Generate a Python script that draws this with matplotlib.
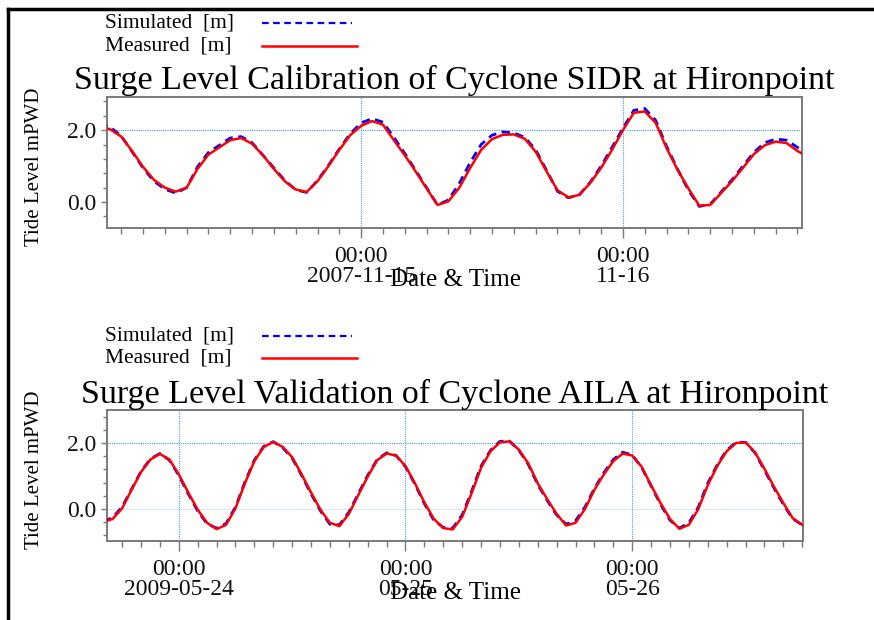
import matplotlib
matplotlib.use('Agg')
import matplotlib.pyplot as plt
import matplotlib.dates as mdates
import pandas as pd
from matplotlib.lines import Line2D
from matplotlib.ticker import MultipleLocator, FixedLocator

plt.rcParams['font.family'] = ['Liberation Serif', 'DejaVu Serif']

# ---- Cyclone SIDR, Hironpoint (hourly, from 2007-11-14 00:00) ----
sidr_start = '2007-11-14 00:00'
sidr_measured = [2.12, 2.02, 1.82, 1.42, 0.98, 0.62, 0.40, 0.29, 0.40, 0.92,
                 1.32, 1.52, 1.72, 1.78, 1.62, 1.30, 0.92, 0.58, 0.35, 0.28,
                 0.58, 1.00, 1.45, 1.86, 2.12, 2.25, 2.15, 1.72, 1.30, 0.85,
                 0.38, -0.08, 0.02, 0.40, 0.95, 1.45, 1.75, 1.87, 1.88, 1.76,
                 1.40, 0.85, 0.33, 0.13, 0.20, 0.53, 0.95, 1.45, 2.00, 2.48,
                 2.52, 2.20, 1.50, 0.90, 0.38, -0.10, -0.08, 0.25, 0.58, 0.95,
                 1.33, 1.58, 1.68, 1.64, 1.42, 1.25]
sidr_simulated = [2.18, 2.08, 1.84, 1.40, 0.95, 0.58, 0.36, 0.25, 0.40, 0.98,
                  1.38, 1.58, 1.78, 1.82, 1.65, 1.30, 0.95, 0.60, 0.34, 0.27,
                  0.60, 1.02, 1.48, 1.90, 2.20, 2.32, 2.22, 1.80, 1.35, 0.88,
                  0.40, -0.08, 0.06, 0.52, 1.10, 1.60, 1.86, 1.95, 1.92, 1.80,
                  1.45, 0.88, 0.30, 0.12, 0.20, 0.55, 1.00, 1.52, 2.05, 2.55,
                  2.60, 2.27, 1.55, 0.92, 0.33, -0.12, -0.06, 0.28, 0.62, 1.00,
                  1.38, 1.65, 1.75, 1.72, 1.52, 1.38]
sidr_days = ['2007-11-15', '2007-11-16']
sidr_day_labels = ['00:00\n2007-11-15', '00:00\n11-16']
sidr_xlim = ('2007-11-14 00:42', '2007-11-16 16:25')

# ---- Cyclone AILA, Hironpoint (hourly, from 2009-05-23 16:00) ----
aila_start = '2009-05-23 16:00'
aila_measured = [-0.40, -0.30, 0.02, 0.58, 1.12, 1.50, 1.67, 1.50, 1.05, 0.50,
                 -0.02, -0.42, -0.61, -0.48, 0.02, 0.78, 1.45, 1.88, 2.03, 1.88,
                 1.57, 1.05, 0.50, -0.02, -0.42, -0.52, -0.15, 0.42, 0.98, 1.48,
                 1.68, 1.62, 1.30, 0.78, 0.20, -0.30, -0.58, -0.62, -0.24, 0.48,
                 1.25, 1.75, 2.02, 2.05, 1.80, 1.38, 0.78, 0.30, -0.15, -0.50,
                 -0.42, 0.00, 0.58, 1.05, 1.45, 1.68, 1.62, 1.28, 0.72, 0.18,
                 -0.30, -0.60, -0.48, 0.00, 0.72, 1.30, 1.75, 2.00, 2.02, 1.72,
                 1.22, 0.68, 0.18, -0.28, -0.48]
aila_simulated = [-0.38, -0.26, 0.06, 0.60, 1.14, 1.52, 1.68, 1.48, 1.02, 0.46,
                  -0.06, -0.45, -0.58, -0.44, 0.06, 0.82, 1.48, 1.90, 2.04, 1.86,
                  1.54, 1.02, 0.46, -0.06, -0.46, -0.48, -0.10, 0.46, 1.02, 1.50,
                  1.70, 1.62, 1.28, 0.75, 0.16, -0.34, -0.56, -0.58, -0.18, 0.54,
                  1.30, 1.78, 2.05, 2.06, 1.78, 1.35, 0.74, 0.26, -0.18, -0.46,
                  -0.36, 0.06, 0.62, 1.10, 1.50, 1.72, 1.64, 1.26, 0.70, 0.14,
                  -0.34, -0.58, -0.42, 0.06, 0.78, 1.34, 1.78, 2.02, 2.02, 1.70,
                  1.18, 0.64, 0.14, -0.30, -0.48]
aila_days = ['2009-05-24', '2009-05-25', '2009-05-26']
aila_day_labels = ['00:00\n2009-05-24', '00:00\n05-25', '00:00\n05-26']
aila_xlim = ('2009-05-23 16:24', '2009-05-26 18:05')

BLUE = '#0000ff'
RED = '#ff0000'
GRID = '#3d9bff'
SPINE = '#7a7a7a'


def draw_panel(ax, start, measured, simulated, days, day_labels, xlim, ylim,
               ygrid_zero):
    t = pd.date_range(start, periods=len(measured), freq='h')
    ax.plot(t, simulated, color=BLUE, lw=2.0, dashes=(3, 2), zorder=3)
    ax.plot(t, measured, color=RED, lw=1.8, zorder=4)

    ax.set_xlim(pd.Timestamp(xlim[0]), pd.Timestamp(xlim[1]))
    ax.set_ylim(*ylim)

    major = [mdates.date2num(pd.Timestamp(d)) for d in days]
    ax.xaxis.set_major_locator(FixedLocator(major))
    ax.set_xticklabels(day_labels)
    ax.xaxis.set_minor_locator(mdates.HourLocator(byhour=range(0, 24, 2)))
    ax.yaxis.set_major_locator(MultipleLocator(2.0))
    ax.yaxis.set_minor_locator(MultipleLocator(0.4))
    ax.yaxis.set_major_formatter(plt.FormatStrFormatter('%.1f'))

    ax.tick_params(axis='both', which='both', colors=SPINE, labelcolor='#111111',
                   labelsize=17, direction='out')
    ax.tick_params(axis='x', which='major', length=7, width=1, pad=6)
    ax.tick_params(axis='x', which='minor', length=4, width=1)
    ax.tick_params(axis='y', which='major', length=4, width=1, pad=4)
    ax.tick_params(axis='y', which='minor', length=3, width=1)
    for lab in ax.get_xticklabels():
        lab.set_linespacing(0.95)

    for s in ax.spines.values():
        s.set_color(SPINE)
        s.set_linewidth(1.4)

    # dotted reference lines at the day boundaries and 2.0 m
    for x in major:
        ax.axvline(x, color=GRID, lw=0.8, ls=(0, (1, 1)), zorder=1)
    ax.axhline(2.0, color=GRID, lw=0.8, ls=(0, (1, 1)), zorder=1)
    if ygrid_zero:
        ax.axhline(0.0, color=GRID, lw=0.6, ls=(0, (1, 1)), alpha=0.5, zorder=1)


def draw_legend(fig, y_sim, y_meas):
    fs = 15.5
    fig.text(105 / 874, 1 - y_sim / 620, 'Simulated  [m]', fontsize=fs,
             va='center', ha='left')
    fig.text(105 / 874, 1 - y_meas / 620, 'Measured  [m]', fontsize=fs,
             va='center', ha='left')
    fig.add_artist(Line2D([262 / 874, 352 / 874], [1 - y_sim / 620] * 2,
                          color=BLUE, lw=1.6, dashes=(3, 2)))
    fig.add_artist(Line2D([262 / 874, 357 / 874], [1 - y_meas / 620] * 2,
                          color=RED, lw=1.8))


fig = plt.figure(figsize=(8.74, 6.2), dpi=100)

ax1 = fig.add_axes([107 / 874, 1 - 228 / 620, 695 / 874, 131 / 620])
draw_panel(ax1, sidr_start, sidr_measured, sidr_simulated, sidr_days,
           sidr_day_labels, sidr_xlim, (-0.72, 2.92), False)

ax2 = fig.add_axes([107 / 874, 1 - 541 / 620, 696 / 874, 131 / 620])
draw_panel(ax2, aila_start, aila_measured, aila_simulated, aila_days,
           aila_day_labels, aila_xlim, (-0.97, 3.0), True)

# titles, axis labels and legends
fig.text(454 / 874, 1 - 80 / 620,
         'Surge Level Calibration of Cyclone SIDR at Hironpoint',
         fontsize=24.5, ha='center', va='center')
fig.text(455 / 874, 1 - 394 / 620,
         'Surge Level Validation of Cyclone AILA at Hironpoint',
         fontsize=24.5, ha='center', va='center')

for yc in (167, 470):
    fig.text(35 / 874, 1 - yc / 620, 'Tide Level mPWD', fontsize=15,
             rotation=90, ha='center', va='center')
for yc in (280, 593):
    fig.text(455 / 874, 1 - yc / 620, 'Date & Time', fontsize=18,
             ha='center', va='center')

draw_legend(fig, 23, 46)
draw_legend(fig, 336, 358)

# outer frame: top and left edges
fig.add_artist(Line2D([8 / 874, 1.0], [1 - 9 / 620] * 2, color='black', lw=2.5))
fig.add_artist(Line2D([8 / 874] * 2, [1 - 9 / 620, 0.0], color='black', lw=2.5))

fig.savefig('out.png', dpi=100)
